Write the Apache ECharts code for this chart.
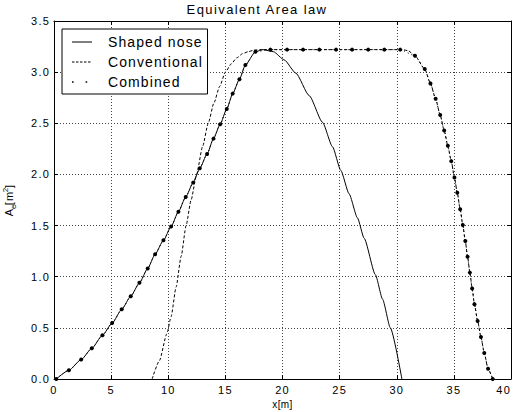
<!DOCTYPE html>
<html>
<head>
<meta charset="utf-8">
<script src="https://cdn.jsdelivr.net/npm/echarts@6/dist/echarts.min.js"></script>
<style>
  html, body { margin: 0; padding: 0; background: #fff; }
  #main { width: 514px; height: 412px; }
  #main text { letter-spacing: 1.2px; }
  #main text[style*="14px"] { letter-spacing: 1.1px; }
  #main text[style*="13px"] { letter-spacing: 1.4px; }
  #main text[style*="10px"] { letter-spacing: 0.4px; }
</style>
</head>
<body>
<div id="main"></div>
<script>
// ---- data ----
var seriesNames = ['Shaped nose', 'Conventional', 'Combined'];
var xTicks = [0, 5, 10, 15, 20, 25, 30, 35, 40];
var yTicks = ['0.0', '0.5', '1.0', '1.5', '2.0', '2.5', '3.0', '3.5'];

var shapedNose = [
  [0.2, 0], [1.3, 0.085], [2.38, 0.19], [3.31, 0.30], [4.24, 0.427], [5.09, 0.547],
  [5.93, 0.681], [6.72, 0.81], [7.48, 0.94], [8.2, 1.08], [8.85, 1.22], [9.58, 1.356],
  [10.25, 1.49], [10.89, 1.636], [11.53, 1.78], [12.18, 1.92], [12.76, 2.06], [13.4, 2.20],
  [13.96, 2.35], [14.54, 2.49], [15.12, 2.64], [15.64, 2.79], [16.23, 2.93], [16.75, 3.07],
  [17.63, 3.20], [18.3, 3.22], [19.2, 3.20], [20.15, 3.12], [21.17, 2.99], [22.34, 2.77],
  [23.5, 2.51], [24.38, 2.27], [25.1, 2.04], [25.83, 1.81], [26.56, 1.575], [27.15, 1.375],
  [28.13, 1.02], [28.76, 0.78], [29.44, 0.5], [30.45, 0]
];

var conventional = [
  [8.59, 0], [9.23, 0.18], [9.87, 0.44], [10.25, 0.61], [10.69, 0.9], [11.13, 1.2],
  [11.56, 1.5], [12.0, 1.75], [12.48, 2.0], [13.0, 2.27], [13.5, 2.5], [14.0, 2.7],
  [14.5, 2.86], [15.0, 3.0], [15.5, 3.08], [16.0, 3.14], [16.5, 3.18], [17.0, 3.2],
  [17.5, 3.215], [18.0, 3.22], [30.5, 3.22], [31.0, 3.21], [31.6, 3.16], [32.45, 3.03],
  [32.95, 2.89], [33.4, 2.74], [33.8, 2.58], [34.15, 2.43], [34.47, 2.28], [34.77, 2.13],
  [35.05, 1.97], [35.3, 1.82], [35.55, 1.66], [35.78, 1.505], [36.0, 1.35], [36.2, 1.195],
  [36.4, 1.04], [36.6, 0.885], [36.8, 0.73], [37.08, 0.567], [37.37, 0.41], [37.66, 0.254],
  [37.99, 0.1], [38.4, 0]
];

var combined = [
  [0.2, 0], [1.3, 0.085], [2.38, 0.19], [3.31, 0.30], [4.24, 0.427], [5.09, 0.547],
  [5.93, 0.681], [6.72, 0.81], [7.48, 0.94], [8.2, 1.08], [8.85, 1.22], [9.58, 1.356],
  [10.25, 1.49], [10.89, 1.636], [11.53, 1.78], [12.18, 1.92], [12.76, 2.06], [13.4, 2.20],
  [13.96, 2.35], [14.54, 2.49], [15.12, 2.64], [15.64, 2.79], [16.23, 2.93], [16.75, 3.07],
  [17.63, 3.20], [18.94, 3.22], [20.4, 3.22], [21.8, 3.22], [23.23, 3.22], [24.69, 3.22],
  [26.09, 3.22], [27.5, 3.22], [28.91, 3.22], [30.3, 3.22], [31.6, 3.16], [32.45, 3.03],
  [32.95, 2.89], [33.4, 2.74], [33.8, 2.58], [34.15, 2.43], [34.47, 2.28], [34.77, 2.13],
  [35.05, 1.97], [35.3, 1.82], [35.55, 1.66], [35.78, 1.505], [36.0, 1.35], [36.2, 1.195],
  [36.4, 1.04], [36.6, 0.885], [36.8, 0.73], [37.08, 0.567], [37.37, 0.41], [37.66, 0.254],
  [37.99, 0.1], [38.4, 0]
];

// ---- chart ----
var FONT = 'Liberation Sans';
var chart = echarts.init(document.getElementById('main'), null, { renderer: 'svg' });

// legend icons drawn in the left 20px of a 31 x 14 box (the rest is the gap before the text)
var bbox = 'M0,0 L0.01,0 M31,14 L30.99,14 ';
var iconSolid = 'path://' + bbox + 'M0,6.5 L20,6.5 L20,7.5 L0,7.5 Z';
var iconDash = 'path://' + bbox +
  'M0,6.5 L2.5,6.5 L2.5,7.5 L0,7.5 Z M4,6.5 L6.5,6.5 L6.5,7.5 L4,7.5 Z ' +
  'M8,6.5 L10.5,6.5 L10.5,7.5 L8,7.5 Z M12,6.5 L14.5,6.5 L14.5,7.5 L12,7.5 Z ' +
  'M16,6.5 L18.5,6.5 L18.5,7.5 L16,7.5 Z';
var iconDots = 'path://' + bbox +
  'M0,6.2 L1.6,6.2 L1.6,7.8 L0,7.8 Z M13.6,6.2 L15.2,6.2 L15.2,7.8 L13.6,7.8 Z';

var axisCommon = {
  axisLine: { show: true, onZero: false, lineStyle: { color: '#000', width: 1 } },
  axisTick: { show: true, inside: true, length: 4, lineStyle: { color: '#000', width: 1 } }
};

chart.setOption({
  animation: false,
  backgroundColor: '#fff',
  title: {
    text: 'Equivalent Area law',
    left: 'center',
    top: 3,
    padding: 0,
    textStyle: { fontFamily: FONT, fontSize: 13, fontWeight: 'normal', color: '#000' }
  },
  legend: {
    orient: 'vertical',
    left: 62,
    top: 29,
    padding: [6, 17, 5, 10],
    itemGap: 6,
    itemWidth: 31,
    itemHeight: 14,
    symbolKeepAspect: false,
    backgroundColor: '#fff',
    borderColor: '#000',
    borderWidth: 1,
    borderRadius: 0,
    textStyle: { fontFamily: FONT, fontSize: 14, color: '#000' },
    data: [
      { name: seriesNames[0], icon: iconSolid },
      { name: seriesNames[1], icon: iconDash },
      { name: seriesNames[2], icon: iconDots }
    ]
  },
  grid: { left: 54, right: 3, top: 21, bottom: 33, outerBoundsMode: 'none', containLabel: false },
  xAxis: [
    Object.assign({
      type: 'value', min: 0, max: 40, interval: 5,
      name: 'x[m]', nameLocation: 'middle', nameGap: 18,
      nameTextStyle: { fontFamily: FONT, fontSize: 10, color: '#000' },
      axisLabel: {
        fontFamily: FONT, fontSize: 11, color: '#000', margin: 5,
        alignMaxLabel: 'right',
        formatter: function (v) { return xTicks.indexOf(v) >= 0 ? String(v) : ''; }
      },
      splitLine: { show: true, lineStyle: { color: '#444', type: [1, 2], width: 1 } }
    }, axisCommon),
    Object.assign({
      type: 'value', min: 0, max: 40, interval: 5, position: 'top',
      axisLabel: { show: false }, splitLine: { show: false }
    }, axisCommon)
  ],
  yAxis: [
    Object.assign({
      type: 'value', min: 0, max: 3.5, interval: 0.5,
      name: '{a|A}{s|e}{a|[m}{p|2}{a|]}',
      nameLocation: 'middle', nameRotate: 90, nameGap: 37,
      nameTextStyle: {
        fontFamily: FONT, fontSize: 11, color: '#000',
        rich: {
          a: { fontFamily: FONT, fontSize: 11, color: '#000', lineHeight: 16, verticalAlign: 'middle' },
          s: { fontFamily: FONT, fontSize: 8, color: '#000', lineHeight: 16, verticalAlign: 'bottom' },
          p: { fontFamily: FONT, fontSize: 8, color: '#000', lineHeight: 16, verticalAlign: 'top' }
        }
      },
      axisLabel: {
        fontFamily: FONT, fontSize: 11, color: '#000', margin: 4,
        formatter: function (v) { return yTicks[Math.round(v / 0.5)] || ''; }
      },
      splitLine: { show: true, lineStyle: { color: '#444', type: [1, 2], width: 1 } }
    }, axisCommon),
    Object.assign({
      type: 'value', min: 0, max: 3.5, interval: 0.5, position: 'right',
      axisLabel: { show: false }, splitLine: { show: false }
    }, axisCommon)
  ],
  series: [
    {
      name: seriesNames[0], type: 'line', data: shapedNose,
      showSymbol: false, symbol: 'none', smooth: 0.2, smoothMonotone: 'x',
      lineStyle: { color: '#000', width: 1, type: 'solid' },
      itemStyle: { color: '#000' }, z: 3
    },
    {
      name: seriesNames[1], type: 'line', data: conventional,
      showSymbol: false, symbol: 'none', smooth: 0.2, smoothMonotone: 'x',
      lineStyle: { color: '#000', width: 1, type: [3, 2] },
      itemStyle: { color: '#000' }, z: 3
    },
    {
      name: seriesNames[2], type: 'line', data: combined,
      symbol: 'circle', symbolSize: 4, showSymbol: true, showAllSymbol: true,
      smooth: 0.2, smoothMonotone: 'x',
      lineStyle: { color: '#000', width: 1, type: [1, 3] },
      itemStyle: { color: '#000' }, z: 4
    }
  ]
});
</script>
</body>
</html>
